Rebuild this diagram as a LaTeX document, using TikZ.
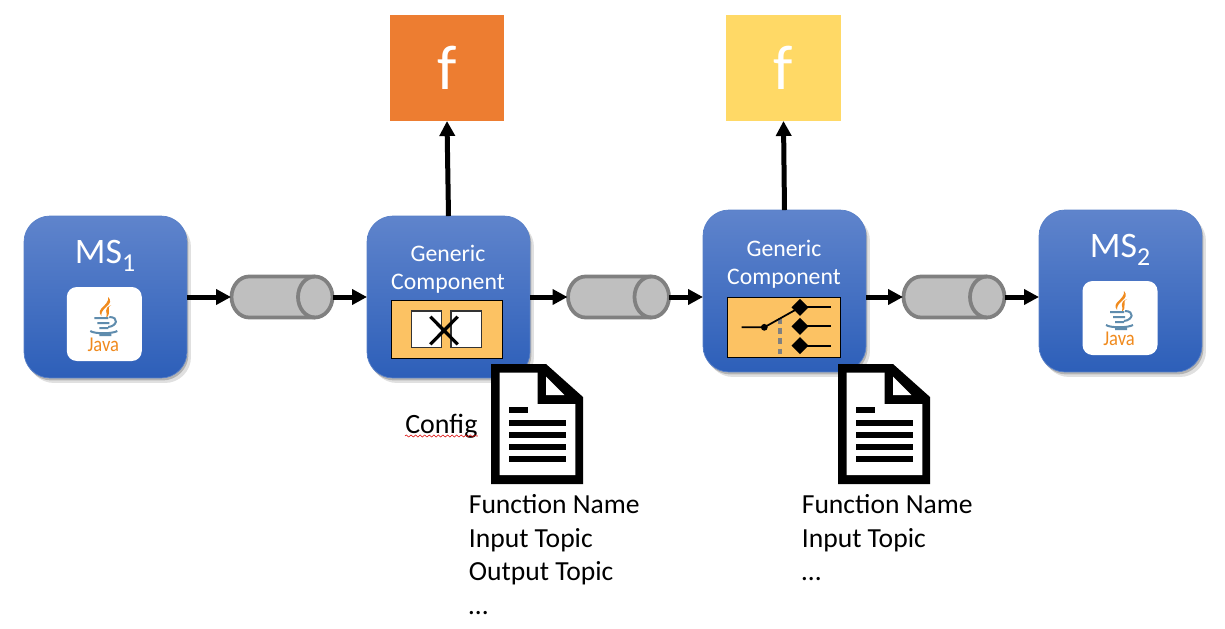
\documentclass[tikz,border=0pt]{standalone}
\usepackage{fontspec}
\setmainfont{Carlito}
\usetikzlibrary{arrows.meta,shadows,decorations.pathmorphing}
\definecolor{panelorange}{HTML}{FCC263}
\definecolor{boxtop}{HTML}{5F84CC}
\definecolor{boxbot}{HTML}{2D5FB9}
\definecolor{javaorange}{HTML}{F08A1D}
\definecolor{javablue}{HTML}{5F8CAD}
\definecolor{funcorange}{HTML}{ED7D31}
\definecolor{funcyellow}{HTML}{FFD966}
\newcommand{\ptfont}[1]{\fontsize{#1pt}{#1pt}\selectfont}
\tikzset{
  service/.style={rectangle,rounded corners=0.52cm,minimum width=3.26cm,minimum height=3.24cm,inner sep=0,outer sep=0,
    top color=boxtop,bottom color=boxbot,draw=boxbot!80!white,line width=0.4pt,
    drop shadow={shadow xshift=0.03cm,shadow yshift=-0.05cm,opacity=0.2,fill=black},
    drop shadow={shadow xshift=0.08cm,shadow yshift=-0.1cm,opacity=0.12,fill=black}},
  queue/.style={rectangle,minimum width=2.04cm,minimum height=0.86cm,inner sep=0,outer sep=0},
  queuebody/.pic={
    \filldraw[draw=black!50,fill=black!25,line width=0.075cm]
      (-33,-20.5) .. controls (-42.4,-20.5) and (-50.5,-11.3) .. (-50.5,0)
      .. controls (-50.5,11.3) and (-42.4,20.5) .. (-33,20.5) -- (33,20.5)
      .. controls (42.4,20.5) and (50.5,11.3) .. (50.5,0)
      .. controls (50.5,-11.3) and (42.4,-20.5) .. (33,-20.5) -- cycle;
    \draw[black!50,line width=0.075cm] (33,-20.5)
      .. controls (23.6,-20.5) and (16,-11.3) .. (16,0)
      .. controls (16,11.3) and (23.6,20.5) .. (33,20.5);
  },
  flow/.style={line width=0.1cm,-{Triangle[length=0.3cm,width=0.3cm]}},
  func/.style={rectangle,inner sep=0,outer sep=0,text=white,font=\ptfont{36}},
  title/.style={text=white,inner sep=0,font=\ptfont{20.4},anchor=center},
  gctitle/.style={text=white,inner sep=0,align=center,font=\ptfont{13.5}},
  panel/.style={rectangle,draw=black,fill=panelorange,line width=0.03cm,inner sep=0,outer sep=0},
  cfgtext/.style={inner sep=0,align=left,anchor=north west,text=black,font=\fontsize{15.7pt}{19pt}\selectfont},
  javacard/.pic={
    \fill[white,rounded corners=0.2cm] (-37.5,-37) rectangle (37.5,37);
    \fill[javaorange] (4,-27) .. controls (11,-19) and (-4,-17) .. (-3,-8)
       .. controls (-9,-16) and (5,-18) .. (4,-27) -- cycle;
    \fill[javaorange] (7,-19) .. controls (1,-16) and (8,-12) .. (2,-6)
       .. controls (4,-12) and (-2,-15) .. (7,-19) -- cycle;
    \draw[javablue,line width=0.04cm] (-10,-6) -- (4,-6) (5,-7) .. controls (15,-7) and (13,2) .. (4,3)
       (-7,-1) -- (5,-1) (-5,4) -- (4,4);
    \draw[javablue,line width=0.04cm] (-14,7) .. controls (-10,10) and (8,10) .. (13,7) (-5,11) -- (7,11);
    \node[text=javaorange,inner sep=0,font=\ptfont{12}] at (-1,21) {\scalebox{0.88}[1]{Java}};
  },
  docicon/.pic={
    \fill[black] (0,0) -- (55,0) -- (92,33) -- (92,120) -- (0,120) -- cycle;
    \fill[white] (8.5,8.7) -- (46.5,8.7) -- (46.5,40) -- (84.3,40) -- (84.3,111) -- (8.5,111) -- cycle;
    \fill[white] (55,12.7) -- (73.3,31) -- (55,31) -- cycle;
    \fill[black] (17.5,43.3) rectangle (36.8,49.3);
    \fill[black] (17.5,55.7) rectangle (74.5,61.7);
    \fill[black] (17.5,67.7) rectangle (74.5,73.5);
    \fill[black] (17.5,79.7) rectangle (74.5,85.5);
    \fill[black] (17.5,91.7) rectangle (74.5,97.5);
  }
}
\begin{document}
\begin{tikzpicture}[x=0.02cm,y=-0.02cm]
\useasboundingbox (0,0) rectangle (1225,629);

% functions
\node[func,minimum width=2.28cm,minimum height=2.12cm,fill=funcorange] (f1) at (447,68) {f};
\node[func,minimum width=2.3cm,minimum height=2.12cm,fill=funcyellow] (f2) at (783.5,68) {f};

% services
\node[service] (ms1) at (105.5,297) {};
\node[service] (gc1) at (448.5,297) {};
\node[service] (gc2) at (784.5,291) {};
\node[service] (ms2) at (1120.5,291) {};

% queues
\pic at (282,297) {queuebody};
\pic at (618.5,297) {queuebody};
\pic at (954,297) {queuebody};
\node[queue] (q1) at (282,297) {};
\node[queue] (q2) at (618.5,297) {};
\node[queue] (q3) at (954,297) {};

% connectors
\draw[flow] (ms1.east) -- (q1.west);
\draw[flow] (q1.east) -- (gc1.west);
\draw[flow] (gc1.east) -- (q2.west);
\draw[flow] (q2.east) -- (gc2.west |- q2.east);
\draw[flow] (gc2.east |- q3.west) -- (q3.west);
\draw[flow] (q3.east) -- (ms2.west |- q3.east);
\draw[flow] (gc1.north) -- (f1.south);
\draw[flow] (gc2.north) -- (f2.south);

% service titles
\node[title] (t1) at (105,256) {MS\raisebox{-0.22em}{\ptfont{14.7}1}};
\node[title] (t4) at (1120,250) {MS\raisebox{-0.22em}{\ptfont{14.7}2}};
\node[gctitle] (t2) at (448,253) {Generic};
\node[gctitle] (t2b) at (448,284) {Component};
\node[gctitle] (t3) at (784,248) {Generic};
\node[gctitle] (t3b) at (784,279) {Component};

\pic at (104.3,324) {javacard};
\pic at (1120,318) {javacard};

% panel with the crossed boxes
\draw[panel] (391.3,300.3) rectangle (502.7,358.7);
\draw[fill=white,draw=black!80,line width=0.03cm] (411.7,311) rectangle (441.7,347.7);
\draw[fill=white,draw=black!80,line width=0.03cm] (451,311) rectangle (481.3,347.7);
\draw[black,line width=0.065cm] (430.3,316.7) -- (457.7,344.3) (430.3,344.3) -- (457.7,316.7);

% panel with the switch
\draw[panel] (727.3,297.3) rectangle (840.7,357.3);
\draw[black!50,line width=0.075cm,dash pattern=on 3.2pt off 2.6pt] (780.3,318) -- (780.3,355);
\draw[black,line width=0.035cm] (741.7,327.3) -- (764.3,327.3) -- (800,307.3);
\fill[black] (764.3,327.3) circle (3.4);
\foreach \yy in {307.3,326.3,345.7}{
  \fill[black] (791.5,\yy) -- (800,\yy-8.5) -- (808.5,\yy) -- (800,\yy+8.5) -- cycle;
  \draw[black,line width=0.035cm] (800,\yy) -- (830.7,\yy);
}

% config documents
\pic at (491,364) {docicon};
\pic at (838,364) {docicon};

\node[inner sep=0,anchor=base west,font=\fontsize{15.9pt}{16pt}\selectfont] (cfg) at (405,433) {Config};
\draw[red!85!black,line width=0.3pt,decorate,decoration={snake,amplitude=0.6pt,segment length=2.6pt}]
  (cfg.base west |- 0,436) -- (cfg.base east |- 0,436);

\node[cfgtext] (l1) at (468.5,494.5) {Function Name\\Input Topic\\Output Topic\\…};
\node[cfgtext] (l2) at (801.5,494.5) {Function Name\\Input Topic\\…};
\end{tikzpicture}
\end{document}
